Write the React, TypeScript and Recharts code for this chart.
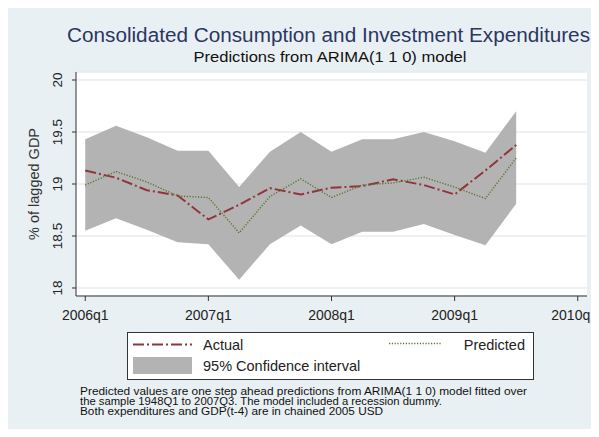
import { ComposedChart, Area, Line, XAxis, YAxis, CartesianGrid, Legend } from 'recharts'

const quarters = [
  '2006q1', '2006q2', '2006q3', '2006q4',
  '2007q1', '2007q2', '2007q3', '2007q4',
  '2008q1', '2008q2', '2008q3', '2008q4',
  '2009q1', '2009q2', '2009q3',
]
const actual = [19.13, 19.06, 18.94, 18.89, 18.66, 18.8, 18.96, 18.9, 18.965, 18.98, 19.045, 18.99, 18.9, 19.13, 19.375]
const predicted = [18.99, 19.12, 19.02, 18.885, 18.87, 18.53, 18.88, 19.05, 18.87, 18.99, 19.01, 19.065, 18.97, 18.86, 19.25]
const ciUpper = [19.43, 19.56, 19.45, 19.32, 19.32, 18.97, 19.31, 19.5, 19.31, 19.43, 19.43, 19.5, 19.41, 19.3, 19.7]
const ciLower = [18.55, 18.67, 18.56, 18.44, 18.42, 18.08, 18.42, 18.6, 18.42, 18.54, 18.54, 18.615, 18.51, 18.41, 18.81]

const xTicks = [0, 4, 8, 12, 16]
const xTickLabels = ['2006q1', '2007q1', '2008q1', '2009q1', '2010q1']
const yTicks = [18, 18.5, 19, 19.5, 20]

const footnote = [
  'Predicted values are one step ahead predictions from ARIMA(1 1 0) model fitted over',
  'the sample 1948Q1 to 2007Q3. The model included a recession dummy.',
  'Both expenditures and GDP(t-4) are in chained 2005 USD',
]

const data = quarters.map((q, i) => ({
  q,
  t: i,
  actual: actual[i],
  predicted: predicted[i],
  ci: [ciLower[i], ciUpper[i]],
}))

const FONT = '"Liberation Sans", Arial, sans-serif'
const BG = '#e9f0f3'
const RED = '#90353b'
const GREEN = '#55752f'
const GRAY = '#b3b3b3'
const W = 591
const H = 421

function XTick({ x, y, payload }: any) {
  // the last label sits against the right edge of the graph, keep it inside
  const atEdge = x + 24 > W
  return (
    <text
      x={atEdge ? W - 1 : x}
      y={y}
      dy="0.71em"
      textAnchor={atEdge ? 'end' : 'middle'}
      fontSize={14}
      fill="#222"
      fontFamily={FONT}
    >
      {xTickLabels[payload.value / 4]}
    </text>
  )
}

function YTick({ y, payload }: any) {
  return (
    <text
      x={49.5}
      y={y}
      transform={`rotate(-90, 49.5, ${y})`}
      textAnchor="middle"
      dominantBaseline="central"
      fontSize={13.5}
      fill="#222"
      fontFamily={FONT}
    >
      {payload.value}
    </text>
  )
}

function LegendBox() {
  return (
    <svg width={408} height={48} style={{ display: 'block' }} fontFamily={FONT}>
      <rect x={0.5} y={0.5} width={406} height={47} fill="#fff" stroke="#333" />
      <line x1={6} x2={65} y1={12.5} y2={12.5} stroke={RED} strokeWidth={2} strokeDasharray="11 3 2 3" />
      <text x={76} y={12.5} dominantBaseline="central" fontSize={14.5} fill="#222">Actual</text>
      <line x1={262} x2={314} y1={11.5} y2={11.5} stroke={GREEN} strokeWidth={1.3} strokeDasharray="1.2 1.6" />
      <text x={398} y={12.5} textAnchor="end" dominantBaseline="central" fontSize={14.5} fill="#222">Predicted</text>
      <rect x={6} y={25} width={59} height={17} fill={GRAY} />
      <text x={76} y={34} dominantBaseline="central" fontSize={14.5} fill="#222">95% Confidence interval</text>
    </svg>
  )
}

export default function App() {
  return (
    <div style={{ position: 'relative', width: W, height: H, background: BG, fontFamily: FONT }}>
      <ComposedChart width={W} height={H} data={data} margin={{ top: 64, right: 12, bottom: 103, left: 0 }}>
        <CartesianGrid vertical={false} fill="#fff" stroke="#e4edf0" strokeWidth={1.5} />
        <XAxis
          dataKey="t"
          type="number"
          domain={[-0.3, 16.3]}
          ticks={xTicks}
          height={30}
          tickSize={5}
          tickMargin={9}
          stroke="#333"
          tick={<XTick />}
          interval={0}
          allowDataOverflow
        />
        <YAxis
          type="number"
          domain={[17.923, 20.077]}
          ticks={yTicks}
          width={68}
          tickSize={4}
          stroke="#333"
          tick={<YTick />}
          allowDataOverflow
        />
        <Area
          type="linear"
          dataKey="ci"
          fill={GRAY}
          fillOpacity={1}
          stroke="none"
          isAnimationActive={false}
          name="95% Confidence interval"
        />
        <Line
          type="linear"
          dataKey="actual"
          stroke={RED}
          strokeWidth={2}
          strokeDasharray="11 3 2 3"
          dot={false}
          isAnimationActive={false}
          name="Actual"
        />
        <Line
          type="linear"
          dataKey="predicted"
          stroke={GREEN}
          strokeWidth={1.4}
          strokeDasharray="1.2 1.6"
          dot={false}
          isAnimationActive={false}
          name="Predicted"
        />
        <Legend
          layout="vertical"
          align="center"
          verticalAlign="middle"
          content={<LegendBox />}
          wrapperStyle={{ position: 'absolute', left: 119, top: 324, width: 408, height: 48 }}
        />
      </ComposedChart>
      <svg
        width={W}
        height={H}
        style={{ position: 'absolute', left: 0, top: 0, pointerEvents: 'none' }}
        fontFamily={FONT}
      >
        <text x={320.5} y={34} textAnchor="middle" fontSize={20} fill="#2b3663" textLength={523} lengthAdjust="spacingAndGlyphs">
          Consolidated Consumption and Investment Expenditures
        </text>
        <text x={322} y={54} textAnchor="middle" fontSize={15.5} fill="#111" textLength={273} lengthAdjust="spacingAndGlyphs">
          Predictions from ARIMA(1 1 0) model
        </text>
        <text
          x={26}
          y={176}
          transform="rotate(-90, 26, 176)"
          textAnchor="middle"
          dominantBaseline="central"
          fontSize={14.5}
          fill="#333"
        >
          % of lagged GDP
        </text>
        {footnote.map((line, i) => (
          <text
            key={i}
            x={72}
            y={387 + i * 10}
            fontSize={10}
            fill="#111"
            textLength={[447, 362, 303][i]}
            lengthAdjust="spacingAndGlyphs"
          >
            {line}
          </text>
        ))}
      </svg>
    </div>
  )
}
